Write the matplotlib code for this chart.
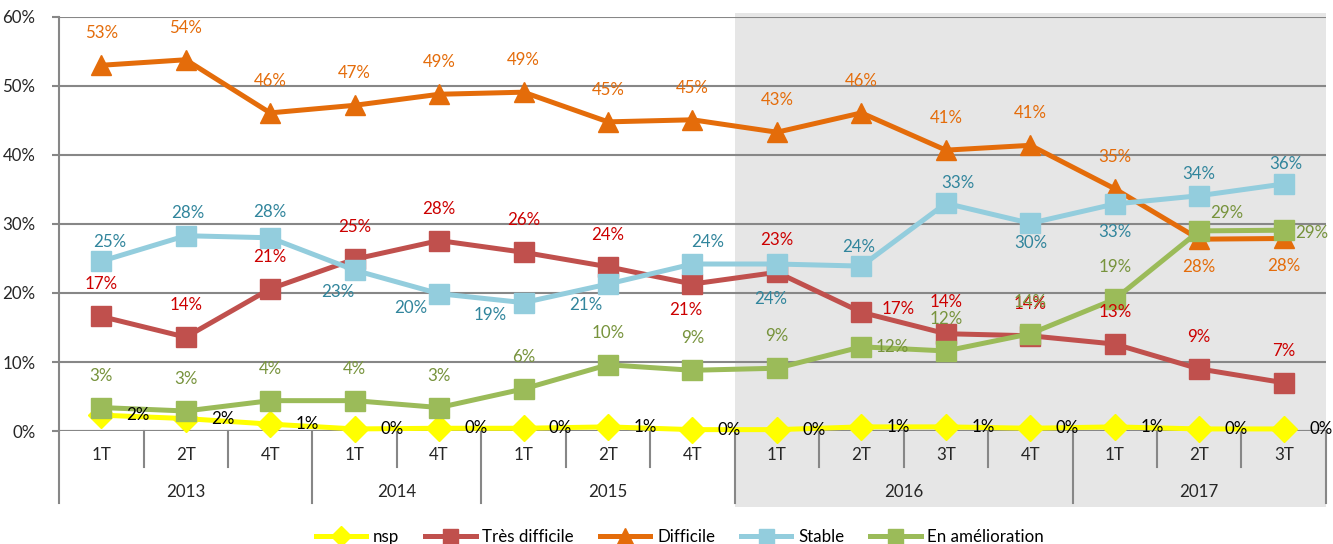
import matplotlib
matplotlib.use("Agg")
import matplotlib.pyplot as plt
import matplotlib.transforms as mtransforms
from matplotlib.patches import Rectangle

plt.rcParams['font.family'] = ['Lato', 'DejaVu Sans']

# categories (two-level axis)
quarters = ["1T", "2T", "4T", "1T", "4T", "1T", "2T", "4T",
            "1T", "2T", "3T", "4T", "1T", "2T", "3T"]
years = ["2013", "2014", "2015", "2016", "2017"]
year_spans = [(0, 2), (3, 4), (5, 7), (8, 11), (12, 14)]

# series values (%)
nsp = [2.3, 1.8, 1.0, 0.3, 0.4, 0.4, 0.6, 0.2, 0.2, 0.6, 0.6, 0.4, 0.6, 0.3, 0.3]
tres_difficile = [16.6, 13.6, 20.6, 24.9, 27.6, 25.9, 23.8, 21.3, 23.0, 17.2, 14.1, 13.8, 12.6, 9.0, 7.0]
difficile = [53.0, 53.8, 46.1, 47.2, 48.8, 49.1, 44.8, 45.1, 43.3, 46.1, 40.7, 41.4, 35.1, 27.8, 27.9]
stable = [24.6, 28.3, 28.0, 23.3, 19.9, 18.6, 21.3, 24.2, 24.2, 23.9, 33.0, 30.1, 32.9, 34.1, 35.8]
amelioration = [3.4, 2.9, 4.4, 4.4, 3.4, 6.1, 9.6, 8.8, 9.1, 12.2, 11.6, 14.1, 19.1, 29.0, 29.1]

FS = 12.2

fig = plt.figure(figsize=(13.33, 5.44), dpi=100)
ax = fig.add_axes([0.0443, 0.2077, 0.9504, 0.7611])
ax.patch.set_visible(False)

x = list(range(len(quarters)))
grid_col = "#878787"

# shaded zone 2016-2017
trans = mtransforms.blended_transform_factory(ax.transData, ax.transAxes)
ax.add_patch(Rectangle((7.5, -0.183), 7.0, 1.193, transform=trans,
                       facecolor="#e6e6e6", edgecolor="none", zorder=0, clip_on=False))

series = [
    ("nsp", nsp, "#ffff00", "D", 13, "black", (37, 0), {}),
    ("Très difficile", tres_difficile, "#c0504d", "s", 14.4, "#cc0000", (0, 32),
     {7: (-7, -26), 9: (37, 3)}),
    ("Difficile", difficile, "#e46c0a", "^", 15, "#e46c0a", (0, 32),
     {13: (0, -28), 14: (0, -28)}),
    ("Stable", stable, "#93cddd", "s", 14.4, "#31859c", (0, 22),
     {0: (8, 19), 1: (2, 23), 2: (0, 26), 3: (-17, -22), 4: (-28, -14), 5: (-33, -12),
      6: (-22, -21), 7: (15, 22), 8: (-6, -35), 9: (-3, 19), 10: (12, 20),
      11: (0, -20), 12: (0, -28), 13: (0, 22), 14: (2, 20)}),
    ("En amélioration", amelioration, "#9bbb59", "s", 14.4, "#77933c", (0, 32),
     {9: (31, 0), 13: (27, 18), 14: (28, -3)}),
]

handles = []
for k, (name, vals, col, mk, ms, lcol, off, over) in enumerate(series):
    ln, = ax.plot(x, vals, color=col, lw=3.6, marker=mk, ms=ms, mec=col, mfc=col,
                  zorder=3 + k, label=name, clip_on=False)
    handles.append(ln)
    for i, v in enumerate(vals):
        dx, dy = over.get(i, off)
        ax.annotate(f"{v:.0f}%", (i, v), xytext=(dx, dy), textcoords="offset pixels",
                    ha="center", va="center", color=lcol, fontsize=FS, zorder=10)

ax.set_xlim(-0.5, 14.5)
ax.set_ylim(0, 60)
ax.set_yticks(range(0, 61, 10))
ax.set_yticklabels([f"{t}%" for t in range(0, 61, 10)])
ax.yaxis.grid(True, color=grid_col, lw=1.5, zorder=1)
ax.set_axisbelow(True)
ax.tick_params(axis="y", length=5, width=1.5, color=grid_col, labelsize=FS, pad=12,
               labelcolor="#262626")
ax.set_xticks([])
for s in ["top", "right", "bottom"]:
    ax.spines[s].set_visible(False)
ax.spines["left"].set_color(grid_col)
ax.spines["left"].set_linewidth(1.5)
ax.axhline(0, color=grid_col, lw=1.5, zorder=2)

# multi-level category axis
for i, q in enumerate(quarters):
    ax.text(i, -0.058, q, transform=trans, ha="center", va="center", fontsize=FS,
            color="#262626")
year_bounds = [s[0] - 0.5 for s in year_spans] + [14.5]
for b in range(-1, 15):
    xb = b + 0.5
    full = xb in year_bounds
    ax.plot([xb, xb], [0, -0.174 if full else -0.087], transform=trans, color=grid_col,
            lw=1.5, clip_on=False, zorder=2)
for (a, b), yr in zip(year_spans, years):
    ax.text((a + b) / 2, -0.147, yr, transform=trans, ha="center", va="center",
            fontsize=FS, color="#262626")

fig.legend(handles=handles, loc="lower center", ncol=5, frameon=False,
           bbox_to_anchor=(0.51, -0.03), fontsize=FS, markerscale=0.75,
           handlelength=3.0, columnspacing=1.5, handletextpad=0.4)

fig.savefig("out.png", dpi=100)
